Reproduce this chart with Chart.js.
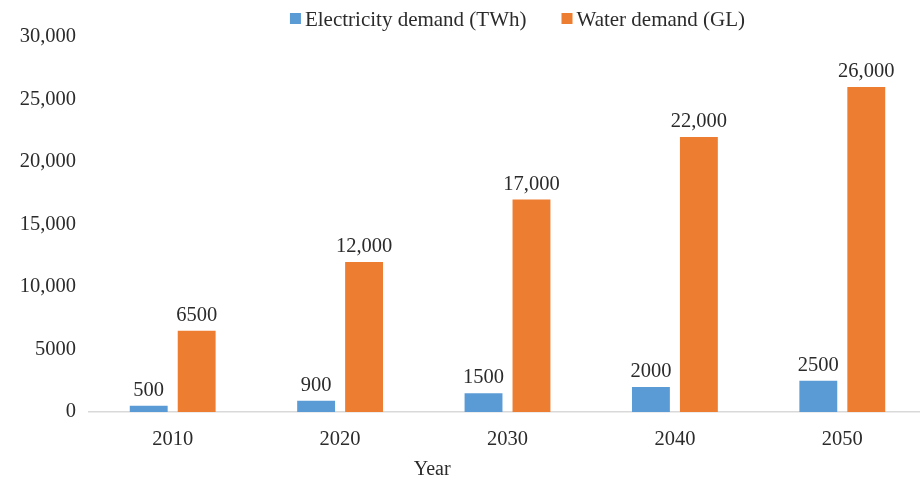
<!DOCTYPE html>
<html>
<head>
<meta charset="utf-8">
<script src="https://cdn.jsdelivr.net/npm/chart.js@4/dist/chart.umd.min.js"></script>
<style>
  html, body { margin: 0; padding: 0; background: #ffffff; overflow: hidden; }
  #wrap { position: relative; width: 927px; height: 481px; }
</style>
</head>
<body>
<div id="wrap"><canvas id="chart"></canvas></div>
<script>
// Projected demand by decade
const years = ['2010', '2020', '2030', '2040', '2050'];
const electricityDemand = [500, 900, 1500, 2000, 2500];   // TWh
const waterDemand = [6500, 12000, 17000, 22000, 26000];    // GL
const seriesNames = ['Electricity demand (TWh)', 'Water demand (GL)'];
const yTicks = [0, 5000, 10000, 15000, 20000, 25000, 30000];
const axisTitle = 'Year';

const SERIF = '"Liberation Serif", "Times New Roman", serif';
const TEXT = '#2b2b2b';

// Values below 10,000 are written without a thousands separator
function fmt(v) {
  return v >= 10000 ? v.toLocaleString('en-US') : String(v);
}

// Value labels above each bar
const valueLabels = {
  id: 'valueLabels',
  afterDatasetsDraw(chart) {
    const ctx = chart.ctx;
    ctx.save();
    ctx.font = '20.5px ' + SERIF;
    ctx.fillStyle = TEXT;
    ctx.textAlign = 'center';
    ctx.textBaseline = 'alphabetic';
    chart.data.datasets.forEach((ds, i) => {
      chart.getDatasetMeta(i).data.forEach((bar, j) => {
        ctx.fillText(fmt(ds.data[j]), bar.x, bar.y - 10);
      });
    });
    ctx.restore();
  }
};

// Legend row: small square swatch followed by the series name
const topLegend = {
  id: 'topLegend',
  afterDraw(chart) {
    const ctx = chart.ctx;
    const box = 11, gap = 4, spacing = 35;
    ctx.save();
    ctx.font = '21px ' + SERIF;
    const items = chart.data.datasets.map(ds => ({
      text: ds.label, color: ds.backgroundColor, w: ctx.measureText(ds.label).width
    }));
    const total = items.reduce((s, it) => s + box + gap + it.w, 0) + spacing * (items.length - 1);
    const area = chart.chartArea;
    let x = (area.left + area.right) / 2 + 10 - total / 2;
    const baseline = 26;
    items.forEach(it => {
      ctx.fillStyle = it.color;
      ctx.fillRect(x, baseline - 13, box, box);
      x += box + gap;
      ctx.fillStyle = TEXT;
      ctx.textAlign = 'left';
      ctx.textBaseline = 'alphabetic';
      ctx.fillText(it.text, x, baseline);
      x += it.w + spacing;
    });
    ctx.restore();
  }
};

// Horizontal axis title, sitting under the 2020-2030 span
const xAxisTitle = {
  id: 'xAxisTitle',
  afterDraw(chart) {
    const ctx = chart.ctx;
    const xs = chart.scales.x;
    ctx.save();
    ctx.font = '20px ' + SERIF;
    ctx.fillStyle = TEXT;
    ctx.textAlign = 'center';
    ctx.textBaseline = 'middle';
    ctx.fillText(axisTitle, xs.getPixelForValue(1.55), chart.chartArea.bottom + 58);
    ctx.restore();
  }
};

new Chart(document.getElementById('chart'), {
  type: 'bar',
  data: {
    labels: years,
    datasets: [
      {
        label: seriesNames[0],
        data: electricityDemand,
        backgroundColor: '#5b9bd5',
        barPercentage: 0.79,
        categoryPercentage: 0.573
      },
      {
        label: seriesNames[1],
        data: waterDemand,
        backgroundColor: '#ed7d31',
        barPercentage: 0.79,
        categoryPercentage: 0.573
      }
    ]
  },
  options: {
    responsive: true,
    maintainAspectRatio: false,
    animation: false,
    layout: { padding: { top: 37, left: 0, right: 1, bottom: 0 } },
    plugins: {
      legend: { display: false },
      tooltip: { enabled: false }
    },
    scales: {
      x: {
        grid: { display: false, drawTicks: false },
        border: { display: true, color: '#d9d9d9', width: 1.5 },
        ticks: {
          color: TEXT,
          padding: 15,
          font: { family: SERIF, size: 20.5 }
        },
        afterFit(scale) { scale.height = 69; }
      },
      y: {
        min: 0,
        max: 30000,
        grid: { display: false, drawTicks: false },
        border: { display: false },
        afterBuildTicks(scale) { scale.ticks = yTicks.map(v => ({ value: v })); },
        ticks: {
          color: TEXT,
          padding: 13,
          font: { family: SERIF, size: 20.5 },
          callback: v => fmt(v)
        },
        afterFit(scale) { scale.width = 89; }
      }
    }
  },
  plugins: [valueLabels, topLegend, xAxisTitle]
});
</script>
</body>
</html>
